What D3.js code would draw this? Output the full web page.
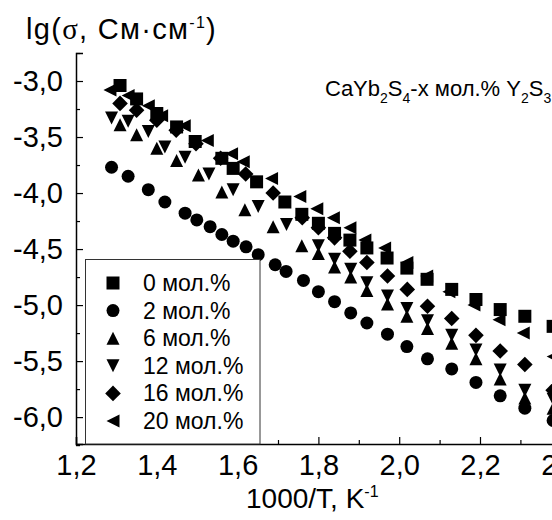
<!DOCTYPE html>
<html>
<head>
<meta charset="utf-8">
<script src="https://cdn.jsdelivr.net/npm/d3@7"></script>
<style>
  body { margin: 0; background: #fff; }
  text { font-family: "Liberation Sans", Arial, sans-serif; fill: #000; }
</style>
</head>
<body>
<div id="chart"></div>
<script>
// Данные: lg(sigma) от 1000/T для CaYb2S4 - x мол.% Y2S3
const labels = ['0 мол.%', '2 мол.%', '6 мол.%', '12 мол.%', '16 мол.%', '20 мол.%'];

const x0 = [1.309,1.350,1.400,1.449,1.495,1.561,1.589,1.647,1.717,1.759,1.800,1.840,1.878,1.920,1.970,2.019,2.069,2.130,2.190,2.250,2.311,2.381];
const y0 = [-3.04,-3.16,-3.29,-3.41,-3.54,-3.69,-3.78,-3.90,-4.08,-4.19,-4.27,-4.36,-4.42,-4.49,-4.58,-4.67,-4.77,-4.86,-4.95,-5.04,-5.10,-5.19];

const x2 = [1.288,1.329,1.379,1.420,1.470,1.499,1.532,1.561,1.589,1.621,1.651,1.693,1.720,1.763,1.800,1.840,1.880,1.920,1.971,2.019,2.070,2.130,2.190,2.250,2.311,2.381];
const y2 = [-3.77,-3.85,-3.97,-4.08,-4.18,-4.24,-4.30,-4.37,-4.43,-4.48,-4.55,-4.64,-4.70,-4.78,-4.88,-4.97,-5.07,-5.16,-5.26,-5.37,-5.48,-5.57,-5.69,-5.81,-5.92,-6.03];

const x6 = [1.309,1.350,1.400,1.449,1.503,1.561,1.618,1.688,1.759,1.800,1.840,1.880,1.920,1.971,2.019,2.070,2.130,2.190,2.250,2.311,2.381];
const y6 = [-3.39,-3.48,-3.60,-3.71,-3.84,-3.99,-4.15,-4.30,-4.47,-4.54,-4.66,-4.75,-4.87,-4.99,-5.10,-5.21,-5.34,-5.48,-5.66,-5.83,-5.92];

const x12 = [1.288,1.329,1.379,1.420,1.470,1.529,1.589,1.651,1.721,1.800,1.840,1.880,1.920,1.971,2.019,2.070,2.130,2.190,2.250,2.311,2.381];
const y12 = [-3.33,-3.36,-3.45,-3.59,-3.68,-3.83,-3.97,-4.12,-4.28,-4.47,-4.59,-4.68,-4.80,-4.92,-5.03,-5.14,-5.27,-5.40,-5.58,-5.76,-5.84];

const x16 = [1.309,1.350,1.400,1.448,1.497,1.558,1.620,1.688,1.760,1.800,1.840,1.878,1.920,1.971,2.020,2.070,2.130,2.190,2.250,2.311,2.381];
const y16 = [-3.20,-3.26,-3.35,-3.44,-3.56,-3.69,-3.83,-4.00,-4.22,-4.31,-4.40,-4.52,-4.62,-4.74,-4.86,-5.01,-5.12,-5.27,-5.41,-5.53,-5.76];

const x20 = [1.284,1.329,1.379,1.412,1.468,1.525,1.585,1.614,1.684,1.754,1.796,1.837,1.878,1.915,1.964,2.019,2.068,2.123,2.185,2.247,2.307,2.381];
const y20 = [-3.08,-3.13,-3.22,-3.31,-3.40,-3.53,-3.65,-3.72,-3.87,-4.03,-4.14,-4.22,-4.31,-4.42,-4.49,-4.62,-4.74,-4.88,-5.00,-5.13,-5.25,-5.46];

const yTicks = [-3.0, -3.5, -4.0, -4.5, -5.0, -5.5, -6.0];
const xTicks = [1.2, 1.4, 1.6, 1.8, 2.0, 2.2, 2.4];

const series = [
  { name: labels[0], shape: 'square',  xs: x0,  ys: y0 },
  { name: labels[1], shape: 'circle',  xs: x2,  ys: y2 },
  { name: labels[2], shape: 'up',      xs: x6,  ys: y6 },
  { name: labels[3], shape: 'down',    xs: x12, ys: y12 },
  { name: labels[4], shape: 'diamond', xs: x16, ys: y16 },
  { name: labels[5], shape: 'left',    xs: x20, ys: y20 }
];

const width = 552, height = 520;
const svg = d3.select('#chart').append('svg')
  .attr('width', width)
  .attr('height', height);

const x = d3.scaleLinear().domain([1.2, 2.5]).range([76, 601.2]);
const y = d3.scaleLinear().domain([-6.24, -2.75]).range([444, 53]);

const fmt = d => d3.format('.1f')(d).replace('.', ',').replace('−', '-');

// Маркеры в стиле Origin
const h = 6.5;
function marker(shape) {
  switch (shape) {
    case 'square':  return `M${-h},${-h}H${h}V${h}H${-h}Z`;
    case 'circle':  return `M${h},0A${h},${h} 0 1,1 ${-h},0A${h},${h} 0 1,1 ${h},0Z`;
    case 'up':      return `M0,${-h}L${h},${h}L${-h},${h}Z`;
    case 'down':    return `M0,${h}L${h},${-h}L${-h},${-h}Z`;
    case 'diamond': return `M0,${-h*1.2}L${h*1.2},0L0,${h*1.2}L${-h*1.2},0Z`;
    case 'left':    return `M${-h},0L${h},${-h}L${h},${h}Z`;
  }
}

// Точки
const plot = svg.append('g');
series.forEach(s => {
  plot.append('g').selectAll('path')
    .data(s.xs.map((v, i) => [v, s.ys[i]]))
    .enter().append('path')
    .attr('d', marker(s.shape))
    .attr('transform', d => `translate(${x(d[0])},${y(d[1])})`)
    .attr('fill', '#000');
});

// Оси
const yAxis = svg.append('g')
  .attr('transform', `translate(${x(1.2)},0)`)
  .call(d3.axisLeft(y).tickValues(yTicks).tickFormat(fmt).tickSize(-7).tickPadding(13));
svg.append('g')
  .attr('transform', `translate(${x(1.2)},0)`)
  .call(d3.axisLeft(y).tickValues(d3.range(-6.25, -2.7, 0.25).filter(v => Math.abs(v*2 - Math.round(v*2)) > 0.01)).tickFormat('').tickSize(-4))
  .select('.domain').remove();

const xAxis = svg.append('g')
  .attr('transform', `translate(0,${y(-6.24)})`)
  .call(d3.axisBottom(x).tickValues(xTicks).tickFormat(fmt).tickSize(-7).tickPadding(10));
svg.append('g')
  .attr('transform', `translate(0,${y(-6.24)})`)
  .call(d3.axisBottom(x).tickValues([1.3, 1.5, 1.7, 1.9, 2.1, 2.3]).tickFormat('').tickSize(-4))
  .select('.domain').remove();

svg.selectAll('.domain').attr('stroke', '#000').attr('stroke-width', 1.5);
svg.selectAll('.tick line').attr('stroke', '#000').attr('stroke-width', 1.2);
yAxis.selectAll('text').attr('font-size', 29).attr('font-family', '"Liberation Sans", Arial, sans-serif');
xAxis.selectAll('text').attr('font-size', 29).attr('font-family', '"Liberation Sans", Arial, sans-serif');

// Подписи осей
const yLab = svg.append('text').attr('x', 26).attr('y', 39).attr('font-size', 29)
  .attr('letter-spacing', 1.3);
yLab.append('tspan').text('lg(');
yLab.append('tspan').text('σ').style('font-family', '"Liberation Serif", "Times New Roman", serif');
yLab.append('tspan').text(', См·см');
yLab.append('tspan').text('-1').attr('font-size', 16).attr('dy', -11);
yLab.append('tspan').text(')').attr('dy', 11);

const xLab = svg.append('text').attr('x', 246).attr('y', 508).attr('font-size', 28);
xLab.append('tspan').text('1000/T, K');
xLab.append('tspan').text('-1').attr('font-size', 16).attr('dy', -11);

// Заголовок
const title = svg.append('text').attr('x', 325).attr('y', 96).attr('font-size', 22);
[['CaYb', 0], ['2', 1], ['S', 0], ['4', 1], ['-x мол.% Y', 0], ['2', 1], ['S', 0], ['3', 1]]
  .forEach(([t, sub], i, arr) => {
    const prevSub = i > 0 ? arr[i - 1][1] : 0;
    title.append('tspan').text(t)
      .attr('font-size', sub ? 14 : 22)
      .attr('dy', (sub - prevSub) * 7);
  });

// Легенда
const legend = svg.append('g');
legend.append('rect')
  .attr('x', 85.5).attr('y', 259.5)
  .attr('width', 174.5).attr('height', 184.5)
  .attr('fill', '#fff').attr('stroke', '#333').attr('stroke-width', 1);
series.forEach((s, i) => {
  const ly = 283 + i * 27.6;
  legend.append('path').attr('d', marker(s.shape))
    .attr('transform', `translate(113,${ly})`).attr('fill', '#000');
  legend.append('text').attr('x', 143).attr('y', ly + 8)
    .attr('font-size', 23).text(s.name);
});
</script>
</body>
</html>
